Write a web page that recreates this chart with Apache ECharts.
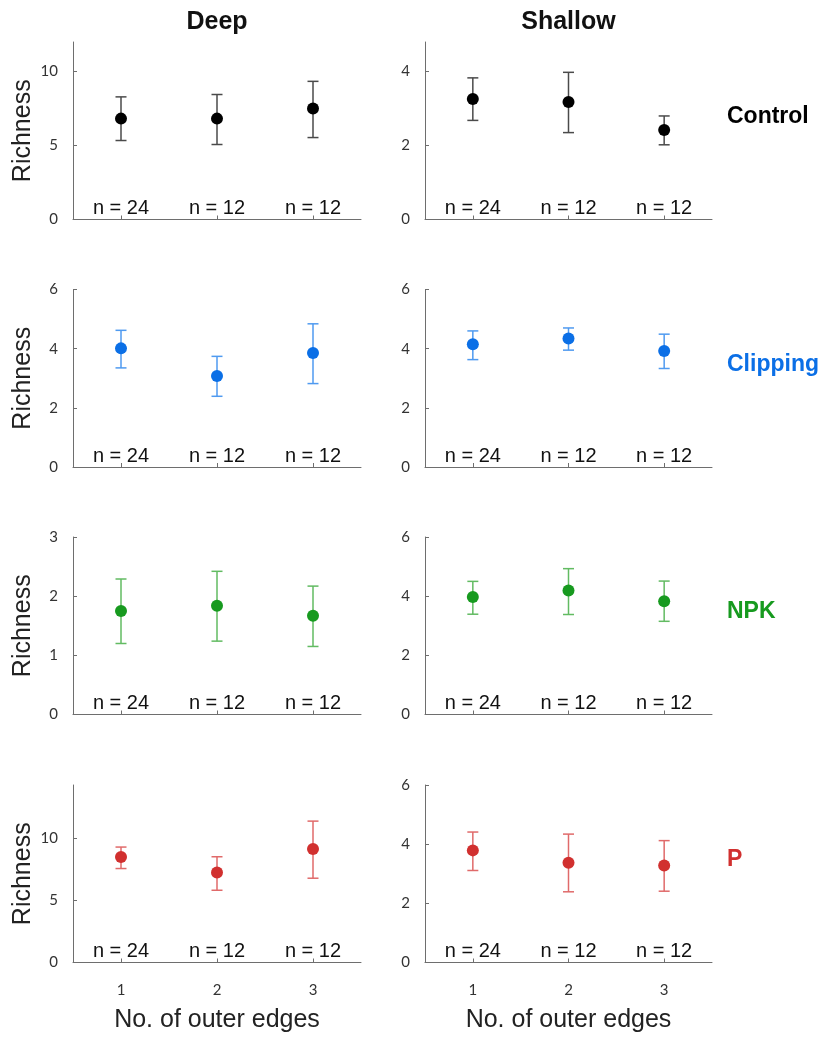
<!DOCTYPE html>
<html>
<head>
<meta charset="utf-8">
<script src="https://cdn.jsdelivr.net/npm/echarts@6/dist/echarts.min.js"></script>
<style>html,body{margin:0;padding:0;background:#fff}#c{width:828px;height:1041px}</style>
</head>
<body>
<div id="c"></div>
<script>
// ---- data ----
const depths = ['Deep', 'Shallow'];
const treatments = ['Control', 'Clipping', 'NPK', 'P'];
const edges = [1, 2, 3];
const edgeTickLabels = ['1', '2', '3'];
const nLabels = ['n = 24', 'n = 12', 'n = 12'];

const controlDeepMean = [6.82, 6.82, 7.50];
const controlDeepLow = [5.34, 5.07, 5.54];
const controlDeepHigh = [8.29, 8.45, 9.34];
const controlShallowMean = [3.26, 3.18, 2.42];
const controlShallowLow = [2.68, 2.35, 2.02];
const controlShallowHigh = [3.83, 3.98, 2.80];

const clippingDeepMean = [4.01, 3.08, 3.85];
const clippingDeepLow = [3.35, 2.39, 2.82];
const clippingDeepHigh = [4.62, 3.74, 4.84];
const clippingShallowMean = [4.15, 4.34, 3.92];
const clippingShallowLow = [3.63, 3.95, 3.33];
const clippingShallowHigh = [4.60, 4.70, 4.49];

const npkDeepMean = [1.75, 1.84, 1.67];
const npkDeepLow = [1.20, 1.24, 1.15];
const npkDeepHigh = [2.29, 2.42, 2.17];
const npkShallowMean = [3.97, 4.19, 3.83];
const npkShallowLow = [3.39, 3.38, 3.15];
const npkShallowHigh = [4.50, 4.93, 4.51];

const pDeepMean = [8.49, 7.25, 9.14];
const pDeepLow = [7.57, 5.82, 6.79];
const pDeepHigh = [9.30, 8.52, 11.39];
const pShallowMean = [3.79, 3.37, 3.28];
const pShallowLow = [3.11, 2.39, 2.41];
const pShallowHigh = [4.41, 4.34, 4.12];

// y-axis ranges and ticks per panel [deep, shallow]
const controlYMax = [12, 4.8];
const controlYTicks = [[0, 5, 10], [0, 2, 4]];
const clippingYMax = [6, 6];
const clippingYTicks = [[0, 2, 4, 6], [0, 2, 4, 6]];
const npkYMax = [3, 6];
const npkYTicks = [[0, 1, 2, 3], [0, 2, 4, 6]];
const pYMax = [14.3, 6];
const pYTicks = [[0, 5, 10], [0, 2, 4, 6]];

// ---- styling / layout ----
const markerColors = ['#000000', '#0b6fe6', '#179a1f', '#d1302f'];
const barColors = ['#4a4a4a', '#4f9af0', '#62bb62', '#e06a6a'];
const colLeft = [73, 425];
const colWidth = [288, 287];
const rowTop = [42, 289.5, 537, 785];
const plotH = 177.5;

const panels = [
  [[controlDeepMean, controlDeepLow, controlDeepHigh], [controlShallowMean, controlShallowLow, controlShallowHigh], controlYMax, controlYTicks],
  [[clippingDeepMean, clippingDeepLow, clippingDeepHigh], [clippingShallowMean, clippingShallowLow, clippingShallowHigh], clippingYMax, clippingYTicks],
  [[npkDeepMean, npkDeepLow, npkDeepHigh], [npkShallowMean, npkShallowLow, npkShallowHigh], npkYMax, npkYTicks],
  [[pDeepMean, pDeepLow, pDeepHigh], [pShallowMean, pShallowLow, pShallowHigh], pYMax, pYTicks]
];

const grid = [], xAxis = [], yAxis = [], series = [], graphic = [];
const axisColor = '#6e6e6e';
const tickFont = 'Lato, "Open Sans", sans-serif';
const textFont = '"Liberation Sans", Arial, sans-serif';

panels.forEach((p, r) => {
  for (let c = 0; c < 2; c++) {
    const idx = grid.length;
    const [mean, low, high] = p[c];
    const yMax = p[2][c];
    const yTicks = p[3][c];
    const bottomRow = r === 3;
    grid.push({ left: colLeft[c], top: rowTop[r], width: colWidth[c], height: plotH });
    xAxis.push({
      gridIndex: idx, type: 'value', min: 0.5, max: 3.5,
      splitLine: { show: false },
      axisLine: { lineStyle: { color: axisColor, width: 1 } },
      axisTick: { show: true, inside: true, length: 4, customValues: edges, lineStyle: { color: axisColor } },
      axisLabel: { show: bottomRow, customValues: edges, formatter: v => edgeTickLabels[edges.indexOf(v)] || '',
        margin: 20, fontFamily: tickFont, fontSize: 15, color: '#333' },
      name: bottomRow ? 'No. of outer edges' : '', nameLocation: 'middle', nameGap: 45,
      nameTextStyle: { fontFamily: textFont, fontSize: 25, color: '#222' }
    });
    yAxis.push({
      gridIndex: idx, type: 'value', min: 0, max: yMax,
      splitLine: { show: false },
      axisLine: { show: true, lineStyle: { color: axisColor, width: 1 } },
      axisTick: { show: true, inside: true, length: 4, customValues: yTicks, lineStyle: { color: axisColor } },
      axisLabel: { customValues: yTicks, margin: 15, fontFamily: tickFont, fontSize: 15, color: '#333' },
      name: c === 0 ? 'Richness' : '', nameLocation: 'middle', nameGap: 37,
      nameTextStyle: { fontFamily: textFont, fontSize: 25, color: '#222' }
    });
    // error bars
    series.push({
      type: 'custom', xAxisIndex: idx, yAxisIndex: idx, silent: true, z: 2,
      data: edges.map((e, i) => [e, low[i], high[i]]),
      renderItem: (params, api) => {
        const x = api.value(0);
        const lo = api.coord([x, api.value(1)]);
        const hi = api.coord([x, api.value(2)]);
        const hw = 5.5;
        const style = { stroke: barColors[r], lineWidth: 1.5, fill: null };
        return { type: 'group', children: [
          { type: 'line', shape: { x1: lo[0], y1: lo[1], x2: hi[0], y2: hi[1] }, style },
          { type: 'line', shape: { x1: lo[0] - hw, y1: lo[1], x2: lo[0] + hw, y2: lo[1] }, style },
          { type: 'line', shape: { x1: hi[0] - hw, y1: hi[1], x2: hi[0] + hw, y2: hi[1] }, style }
        ]};
      }
    });
    // means
    series.push({
      type: 'scatter', xAxisIndex: idx, yAxisIndex: idx, z: 3, silent: true,
      symbol: 'circle', symbolSize: 12,
      itemStyle: { color: markerColors[r], opacity: 1 },
      data: edges.map((e, i) => [e, mean[i]])
    });
    // n labels
    series.push({
      type: 'scatter', xAxisIndex: idx, yAxisIndex: idx, z: 4, silent: true,
      symbolSize: 0, itemStyle: { opacity: 1 },
      data: edges.map((e, i) => ({ value: [e, 0], label: { formatter: nLabels[i] } })),
      label: { show: true, position: 'top', distance: 1, fontFamily: textFont, fontSize: 20, color: '#111', opacity: 1 }
    });
  }
  graphic.push({
    type: 'text', x: 727, y: rowTop[r] + 75,
    style: { text: treatments[r], fontFamily: textFont, fontWeight: 'bold', fontSize: 23, fill: markerColors[r], textVerticalAlign: 'middle' }
  });
});

depths.forEach((d, c) => {
  graphic.push({
    type: 'text', x: colLeft[c] + colWidth[c] / 2, y: 22,
    style: { text: d, fontFamily: textFont, fontWeight: 'bold', fontSize: 25, fill: '#111', textAlign: 'center', textVerticalAlign: 'middle' }
  });
});

const chart = echarts.init(document.getElementById('c'), null, { renderer: 'canvas' });
chart.setOption({ animation: false, backgroundColor: '#fff', grid, xAxis, yAxis, series, graphic });
</script>
</body>
</html>
